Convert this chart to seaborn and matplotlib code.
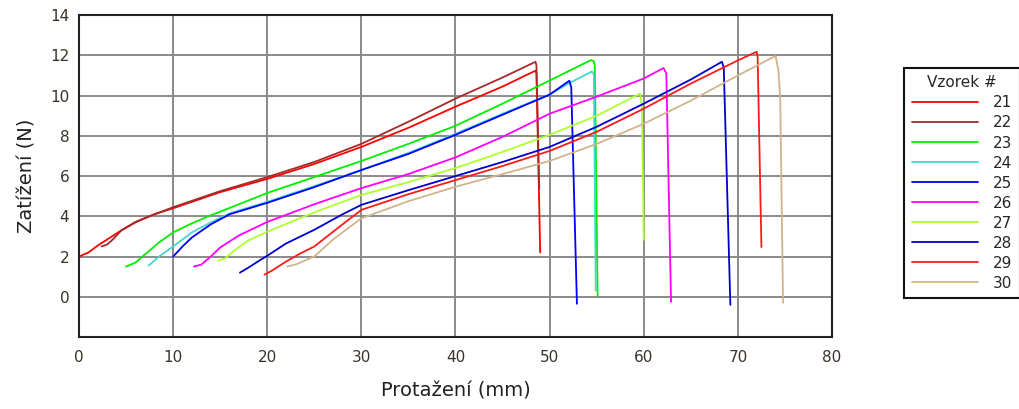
import pandas as pd
import matplotlib.pyplot as plt
import seaborn as sns
from matplotlib.ticker import MultipleLocator

# -------------------- Data --------------------
samples = ["21", "22", "23", "24", "25", "26", "27", "28", "29", "30"]
colors = ["#ff0000", "#a52a2a", "#00ee00", "#40d8d0", "#0000ff",
          "#ff00ff", "#adff2f", "#0000cc", "#ff1a1a", "#d2b48c"]

s21_x = [0, 1, 2, 3, 4.5, 6, 8, 10, 15, 20, 25, 30, 35, 40, 45, 48.5, 48.6, 49.0]
s21_y = [2.0, 2.2, 2.55, 2.85, 3.3, 3.7, 4.1, 4.4, 5.2, 5.86, 6.6, 7.45, 8.4, 9.45, 10.45, 11.24, 11.1, 2.2]

s22_x = [2.4, 3.0, 3.6, 4.5, 6, 8, 10, 15, 20, 25, 30, 35, 40, 45, 48.5, 48.6, 48.9]
s22_y = [2.5, 2.6, 2.85, 3.3, 3.72, 4.1, 4.45, 5.25, 5.95, 6.7, 7.6, 8.7, 9.85, 10.9, 11.68, 11.5, 5.4]

s23_x = [5.0, 6.0, 7.0, 8.5, 10, 12, 14, 17, 20, 25, 30, 35, 40, 45, 50, 54.4, 54.7, 54.8, 55.1]
s23_y = [1.5, 1.7, 2.1, 2.7, 3.2, 3.65, 4.05, 4.6, 5.16, 5.95, 6.75, 7.6, 8.5, 9.6, 10.75, 11.77, 11.7, 11.5, 0.05]

s24_x = [7.4, 8.5, 10, 12, 14, 16, 20, 25, 30, 35, 40, 45, 50, 52, 54.5, 54.7, 54.9]
s24_y = [1.55, 2.0, 2.5, 3.2, 3.7, 4.15, 4.72, 5.5, 6.3, 7.15, 8.1, 9.1, 10.05, 10.6, 11.2, 11.05, 0.3]

s25_x = [10.0, 11, 12, 14, 16, 20, 25, 30, 35, 40, 45, 50, 52.1, 52.3, 52.9]
s25_y = [2.0, 2.5, 2.95, 3.6, 4.1, 4.67, 5.45, 6.3, 7.1, 8.05, 9.05, 10.05, 10.74, 10.4, -0.35]

s26_x = [12.2, 13, 14, 15, 17, 20, 25, 30, 35, 40, 45, 50, 55, 60, 62.1, 62.4, 62.9]
s26_y = [1.5, 1.6, 2.0, 2.45, 3.05, 3.72, 4.6, 5.4, 6.1, 6.93, 7.95, 9.1, 9.95, 10.85, 11.37, 11.1, -0.25]

s27_x = [14.8, 15.5, 16.5, 18, 20, 25, 30, 35, 40, 45, 50, 55, 59.6, 59.8, 60.0]
s27_y = [1.8, 1.9, 2.3, 2.8, 3.23, 4.2, 5.06, 5.7, 6.4, 7.2, 8.05, 9.0, 10.1, 9.5, 2.83]

s28_x = [17.1, 18, 19, 20, 22, 25, 28, 30, 35, 40, 45, 50, 55, 60, 65, 68.3, 68.5, 69.2]
s28_y = [1.2, 1.45, 1.75, 2.04, 2.65, 3.33, 4.1, 4.57, 5.3, 6.0, 6.7, 7.45, 8.45, 9.6, 10.8, 11.68, 11.4, -0.4]

s29_x = [19.7, 20.5, 22, 23.5, 25, 28, 30, 35, 40, 45, 50, 55, 60, 65, 70, 72.0, 72.1, 72.5]
s29_y = [1.1, 1.3, 1.75, 2.15, 2.5, 3.6, 4.32, 5.1, 5.8, 6.5, 7.25, 8.2, 9.35, 10.6, 11.75, 12.18, 11.9, 2.47]

s30_x = [22.1, 23, 24, 25, 27, 30, 35, 40, 45, 50, 55, 60, 65, 70, 74.0, 74.3, 74.5, 74.8]
s30_y = [1.5, 1.6, 1.8, 2.0, 2.85, 3.9, 4.75, 5.47, 6.1, 6.75, 7.6, 8.6, 9.75, 11.0, 11.97, 11.27, 9.8, -0.3]

xs = [s21_x, s22_x, s23_x, s24_x, s25_x, s26_x, s27_x, s28_x, s29_x, s30_x]
ys = [s21_y, s22_y, s23_y, s24_y, s25_y, s26_y, s27_y, s28_y, s29_y, s30_y]

frames = []
for name, x, y in zip(samples, xs, ys):
    frames.append(pd.DataFrame({"Protažení (mm)": x, "Zatížení (N)": y, "Vzorek #": name}))
df = pd.concat(frames, ignore_index=True)
palette = dict(zip(samples, colors))

# -------------------- Style --------------------
sns.set_theme(style="white")
plt.rcParams["font.family"] = ["DejaVu Sans"]

fig = plt.figure(figsize=(10.19, 4.09), dpi=100)
ax = fig.add_axes([0.0775, 0.176, 0.739, 0.787])

sns.lineplot(data=df, x="Protažení (mm)", y="Zatížení (N)", hue="Vzorek #",
             palette=palette, sort=False, estimator=None, linewidth=1.3, ax=ax)

ax.set_xlim(0, 80)
ax.set_ylim(-2, 14)
ax.xaxis.set_major_locator(MultipleLocator(10))
ax.xaxis.set_minor_locator(MultipleLocator(5))
ax.yaxis.set_major_locator(MultipleLocator(2))
ax.yaxis.set_minor_locator(MultipleLocator(1))
ax.set_yticks([0, 2, 4, 6, 8, 10, 12, 14])
ax.grid(True, which="major", color="#8a8a8a", linewidth=1.4)
ax.set_axisbelow(True)
for sp in ax.spines.values():
    sp.set_color("#222222")
    sp.set_linewidth(1.5)
ax.tick_params(which="both", direction="inout", length=7, width=1.2,
               colors="#222222", labelsize=11, labelcolor="#3a3228")
ax.tick_params(axis="x", pad=6)
ax.set_xlabel("Protažení (mm)", fontsize=14, color="#222222", labelpad=12)
ax.set_ylabel("Zatížení (N)", fontsize=14, color="#222222", labelpad=10)

# legend outside on the right
handles, labels = ax.get_legend_handles_labels()
ax.get_legend().remove()
leg = fig.legend(handles, labels, title="Vzorek #", loc="upper left",
                 bbox_to_anchor=(0.880, 0.853), fontsize=11, title_fontsize=11,
                 handlelength=4.3, handletextpad=1.0, labelspacing=0.33,
                 borderpad=0.5, fancybox=False, framealpha=1, edgecolor="#111111")
leg.get_frame().set_linewidth(1.5)

plt.savefig("out.png", dpi=100)
plt.close()
